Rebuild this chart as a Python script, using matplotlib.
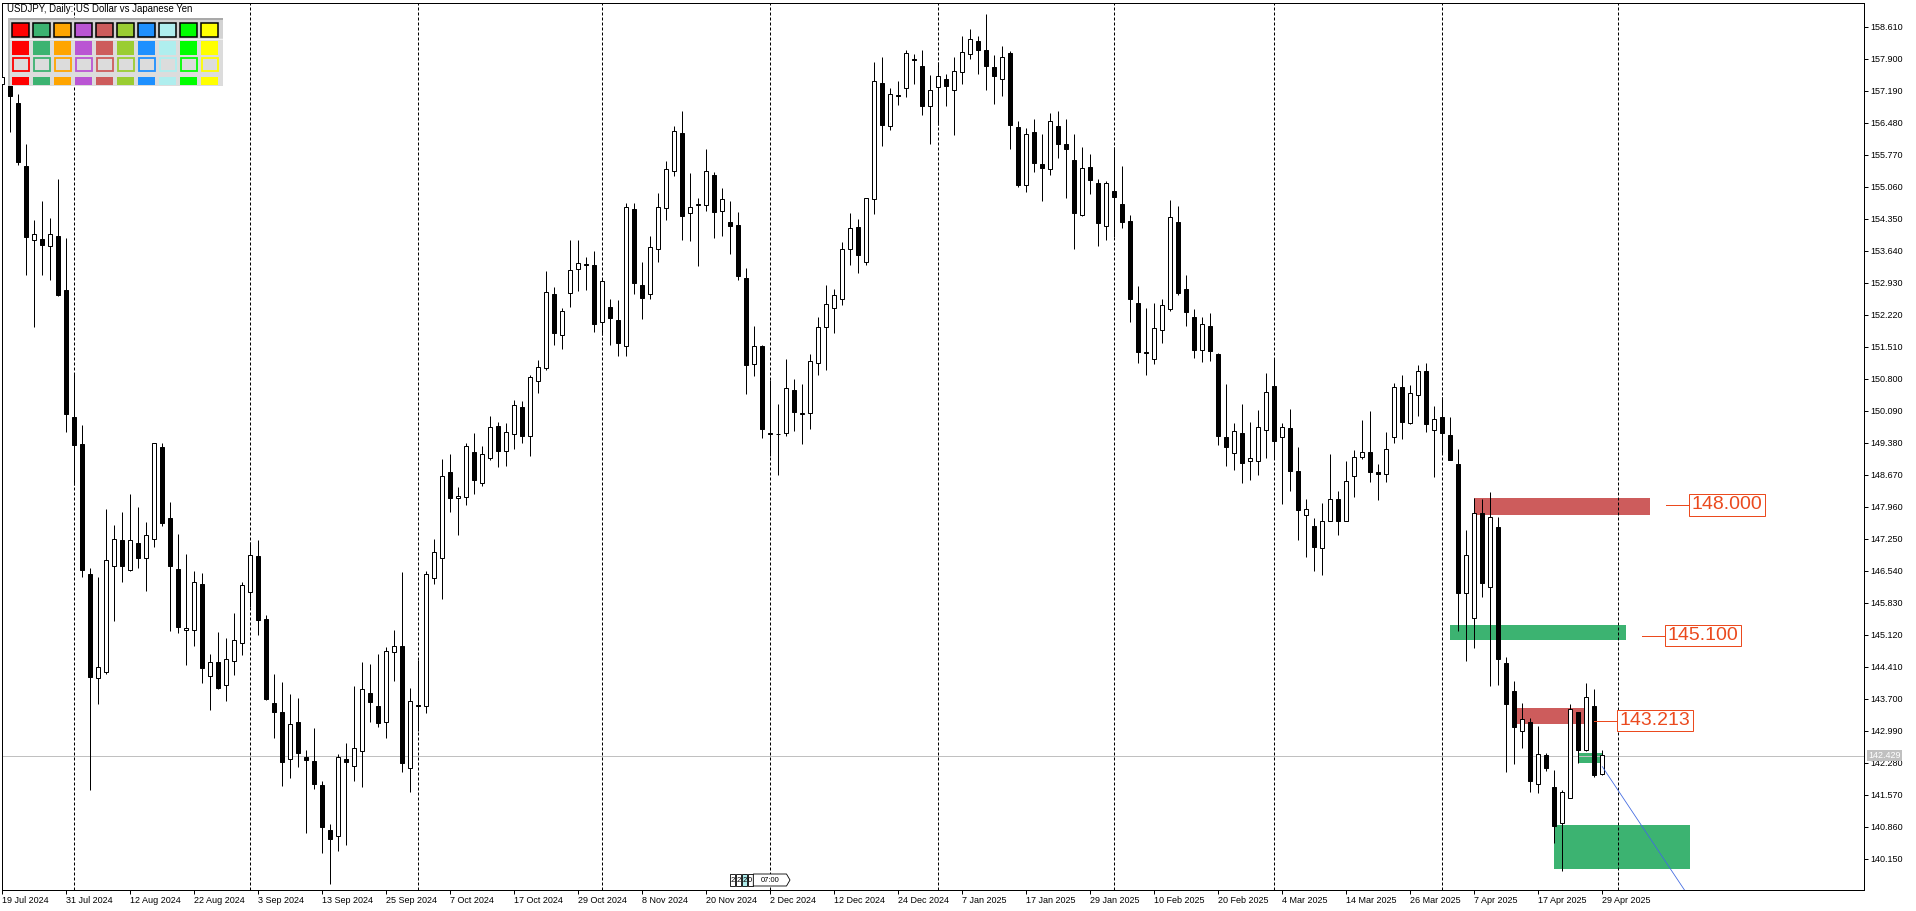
import matplotlib
matplotlib.use("Agg")
import matplotlib.pyplot as plt
from matplotlib.patches import Rectangle, Polygon
from matplotlib import transforms
import numpy as np

plt.rcParams['font.family'] = ['Liberation Sans', 'DejaVu Sans']
plt.rcParams['lines.scale_dashes'] = False

W, H, DPI = 1916, 911, 100
# chart frame, in pixels from the top-left corner
PX_LEFT, PX_RIGHT, PX_TOP, PX_BOTTOM = 2, 1864, 2.5, 890
BAR_PX = 8          # one daily bar every 8 px
BAR0_PX = 2.3       # centre of the first bar
REF_PRICE, REF_PX, PX_PER_YEN = 158.61, 26.9, 45.05

# USDJPY daily, bar 0 = 19 Jul 2024 ... bar 200 = 29 Apr 2025
opens = [157.34, 157.39, 156.91, 155.52, 153.87, 153.90, 153.75, 153.96, 152.77, 149.96,
         149.36, 146.47, 144.15, 144.30, 146.65, 147.23, 146.55, 147.15, 146.82, 147.24,
         149.28, 147.71, 146.57, 145.22, 145.23, 146.25, 144.21, 144.51, 144.00, 144.53,
         144.94, 146.07, 146.87, 145.47, 143.60, 143.40, 142.35, 143.18, 142.40, 142.32,
         141.78, 140.78, 140.64, 142.37, 142.20, 142.54, 143.82, 143.53, 143.17, 144.73,
         144.86, 142.17, 143.56, 143.54, 146.38, 146.81, 148.72, 148.15, 148.18, 149.17,
         148.49, 149.05, 149.76, 149.20, 149.58, 150.17, 149.52, 150.76, 151.03, 152.68,
         151.78, 152.70, 153.23, 153.35, 153.33, 152.06, 152.40, 152.10, 151.53, 154.57,
         152.87, 152.67, 153.69, 154.60, 155.42, 156.25, 154.49, 154.65, 154.66, 155.32,
         154.53, 154.29, 154.21, 153.03, 151.12, 151.52, 149.60, 149.58, 149.60, 150.56,
         150.01, 150.05, 151.15, 151.94, 152.36, 152.58, 153.69, 154.16, 153.40, 154.78,
         157.37, 156.42, 157.10, 157.25, 157.90, 157.74, 156.86, 157.28, 157.46, 157.20,
         157.61, 158.01, 158.29, 158.10, 157.72, 157.46, 158.02, 156.38, 155.09, 156.27,
         155.56, 155.45, 156.40, 156.00, 155.66, 154.43, 155.49, 155.15, 154.18, 154.97,
         154.68, 154.30, 152.49, 151.39, 151.24, 151.89, 152.35, 154.28, 152.80, 152.18,
         151.44, 151.96, 151.35, 149.50, 149.16, 149.59, 148.97, 148.98, 149.67, 150.63,
         149.51, 149.70, 148.75, 147.78, 147.53, 147.05, 147.64, 148.13, 147.65, 148.65,
         149.06, 149.18, 148.73, 148.68, 149.51, 150.61, 149.81, 150.45, 150.97, 149.67,
         149.95, 149.55, 148.91, 146.04, 145.48, 147.83, 146.17, 147.50, 144.48, 143.87,
         142.97, 143.17, 141.80, 142.45, 141.73, 140.93, 141.49, 143.40, 142.57, 143.53,
         142.03]
highs = [157.80, 157.63, 157.12, 156.01, 154.33, 154.75, 154.37, 155.24, 153.93, 150.90,
         149.78, 146.59, 146.41, 147.91, 147.55, 147.84, 148.25, 147.96, 147.61, 149.38,
         149.38, 148.07, 147.36, 146.91, 146.53, 146.49, 144.69, 145.18, 145.05, 145.59,
         146.29, 147.17, 147.22, 145.56, 144.25, 144.07, 143.81, 143.72, 142.56, 143.04,
         141.87, 140.91, 142.47, 142.71, 143.97, 144.51, 144.47, 144.69, 144.85, 145.22,
         146.50, 143.93, 144.56, 146.53, 147.24, 149.02, 149.13, 148.39, 149.37, 149.60,
         149.30, 149.98, 149.84, 149.82, 150.32, 150.30, 150.88, 151.21, 153.19, 152.83,
         152.38, 153.88, 153.88, 153.50, 153.63, 153.02, 152.56, 152.55, 154.70, 154.71,
         153.39, 153.96, 154.93, 155.64, 156.42, 156.75, 155.36, 154.81, 155.89, 155.40,
         155.03, 154.74, 154.50, 153.25, 151.96, 151.55, 150.77, 150.24, 151.23, 150.79,
         150.69, 151.34, 152.17, 152.87, 152.79, 153.83, 154.49, 154.35, 154.82, 157.82,
         157.95, 157.25, 157.40, 158.10, 158.01, 158.10, 157.55, 157.82, 157.57, 157.95,
         158.41, 158.56, 158.40, 158.90, 157.98, 158.19, 158.08, 156.52, 156.36, 156.57,
         156.24, 156.70, 156.75, 156.57, 156.23, 155.95, 155.78, 155.23, 155.20, 155.94,
         155.52, 154.43, 152.86, 152.38, 152.49, 152.56, 154.77, 154.63, 153.11, 152.34,
         152.18, 152.27, 151.38, 150.69, 149.82, 150.23, 149.83, 150.10, 150.92, 151.25,
         149.82, 150.13, 149.28, 148.14, 147.71, 148.05, 149.13, 148.31, 148.97, 149.21,
         149.88, 150.08, 148.90, 149.61, 150.70, 150.88, 150.67, 151.10, 151.16, 150.20,
         150.40, 149.95, 149.25, 147.44, 148.15, 148.12, 148.28, 147.72, 144.63, 144.09,
         143.60, 143.28, 143.09, 142.49, 142.11, 141.67, 143.57, 143.40, 144.04, 143.91,
         142.57]
lows = [157.15, 156.27, 155.55, 153.11, 151.94, 153.10, 153.00, 152.64, 149.61, 148.45,
        146.41, 141.68, 143.58, 144.24, 145.42, 146.28, 146.53, 146.59, 146.08, 147.06,
        147.53, 145.21, 145.15, 144.45, 144.87, 144.04, 143.44, 143.91, 143.64, 144.22,
        144.66, 145.74, 145.11, 143.67, 142.83, 141.77, 141.93, 142.19, 140.71, 141.69,
        140.28, 139.58, 140.32, 140.44, 141.86, 141.73, 143.17, 143.06, 142.83, 144.10,
        142.06, 141.63, 142.97, 143.37, 146.24, 145.91, 147.85, 147.33, 148.00, 148.24,
        148.41, 149.00, 148.85, 148.87, 149.24, 149.37, 149.09, 150.48, 150.99, 151.56,
        151.45, 152.39, 152.75, 152.77, 151.83, 151.78, 151.55, 151.31, 151.30, 152.68,
        152.13, 152.58, 153.40, 154.32, 155.31, 153.88, 153.85, 153.30, 154.53, 153.93,
        153.96, 153.56, 152.99, 150.46, 150.85, 149.49, 149.08, 148.66, 149.53, 149.65,
        149.36, 149.69, 150.89, 150.99, 151.81, 152.44, 153.33, 153.15, 153.33, 154.45,
        155.96, 156.33, 156.87, 157.06, 157.35, 156.66, 156.02, 156.44, 156.86, 156.22,
        157.35, 157.90, 157.56, 157.20, 156.89, 157.07, 155.91, 155.05, 154.95, 155.39,
        154.74, 155.32, 155.70, 154.81, 153.67, 154.42, 154.89, 153.75, 153.87, 153.95,
        154.14, 152.06, 151.16, 150.88, 151.12, 151.60, 152.31, 152.65, 151.97, 151.27,
        151.18, 151.19, 149.32, 148.86, 148.77, 148.49, 148.55, 148.67, 149.04, 149.04,
        148.02, 148.31, 147.21, 146.85, 146.54, 146.45, 147.64, 147.33, 147.65, 148.17,
        149.02, 148.51, 148.11, 148.51, 149.37, 149.46, 149.79, 149.98, 149.61, 148.61,
        149.15, 149.05, 145.19, 144.54, 144.82, 145.96, 143.99, 144.00, 142.06, 142.24,
        142.60, 141.63, 141.61, 142.10, 140.49, 139.88, 141.49, 142.26, 142.54, 141.97,
        142.00]
closes = [157.50, 157.07, 155.61, 153.94, 154.02, 153.76, 154.02, 152.66, 150.02, 149.34,
          146.55, 144.17, 144.40, 146.77, 147.25, 146.64, 147.23, 146.82, 147.34, 149.38,
          147.59, 146.64, 145.29, 145.27, 146.29, 144.39, 144.51, 143.93, 144.59, 144.99,
          146.23, 146.89, 145.44, 143.69, 143.41, 142.30, 143.14, 142.49, 142.34, 141.80,
          140.86, 140.58, 142.40, 142.29, 142.60, 143.91, 143.62, 143.15, 144.75, 144.86,
          142.26, 143.64, 143.53, 146.46, 146.95, 148.63, 148.16, 148.20, 149.30, 148.56,
          149.12, 149.73, 149.19, 149.61, 150.21, 149.52, 150.84, 151.07, 152.73, 151.81,
          152.31, 153.22, 153.36, 153.33, 152.01, 152.98, 152.14, 151.59, 154.62, 152.93,
          152.60, 153.72, 154.62, 155.45, 156.29, 154.42, 154.62, 154.68, 155.42, 154.51,
          154.79, 154.20, 153.09, 151.11, 151.52, 149.69, 149.58, 149.57, 150.59, 150.07,
          150.05, 151.19, 151.94, 152.45, 152.66, 153.67, 154.14, 153.54, 154.82, 157.42,
          156.44, 157.13, 157.07, 158.02, 157.88, 156.86, 157.22, 157.53, 157.30, 157.63,
          158.06, 158.35, 158.10, 157.74, 157.52, 157.94, 156.44, 155.10, 156.24, 155.58,
          155.47, 156.52, 156.02, 155.91, 154.48, 155.48, 155.21, 154.26, 155.15, 154.83,
          154.27, 152.56, 151.40, 151.37, 151.93, 152.44, 154.39, 152.71, 152.29, 151.44,
          152.02, 151.42, 149.54, 149.28, 149.65, 148.94, 149.04, 149.73, 150.50, 149.41,
          149.73, 148.75, 147.89, 147.91, 147.07, 147.64, 148.13, 147.65, 148.53, 149.06,
          149.18, 148.73, 148.68, 149.25, 150.61, 149.83, 150.48, 150.97, 149.79, 149.90,
          149.60, 149.00, 146.05, 146.88, 147.83, 146.27, 147.72, 144.59, 143.57, 143.06,
          143.24, 141.88, 142.48, 142.17, 140.88, 141.62, 143.46, 142.55, 143.73, 142.00,
          142.44]

date_ticks = [0, 8, 16, 24, 32, 40, 48, 56, 64, 72, 80, 88, 96, 104, 112, 120, 128,
              136, 144, 152, 160, 168, 176, 184, 192, 200]
date_labels = ['19 Jul 2024', '31 Jul 2024', '12 Aug 2024', '22 Aug 2024', '3 Sep 2024',
               '13 Sep 2024', '25 Sep 2024', '7 Oct 2024', '17 Oct 2024', '29 Oct 2024',
               '8 Nov 2024', '20 Nov 2024', '2 Dec 2024', '12 Dec 2024', '24 Dec 2024',
               '7 Jan 2025', '17 Jan 2025', '29 Jan 2025', '10 Feb 2025', '20 Feb 2025',
               '4 Mar 2025', '14 Mar 2025', '26 Mar 2025', '7 Apr 2025', '17 Apr 2025',
               '29 Apr 2025']
month_bars = [9, 31, 52, 75, 96, 117, 139, 159, 180, 202]   # first bar of each month
price_ticks = [158.610, 157.900, 157.190, 156.480, 155.770, 155.060, 154.350, 153.640,
               152.930, 152.220, 151.510, 150.800, 150.090, 149.380, 148.670, 147.960,
               147.250, 146.540, 145.830, 145.120, 144.410, 143.700, 142.990, 142.280,
               141.570, 140.860, 140.150]
bid = 142.429

# supply / demand rectangles (bar from, bar to, price low, price high)
zone_from = [184, 181, 189, 197, 194]
zone_to = [206, 203, 198, 200, 211]
zone_low = [147.78, 144.99, 143.14, 142.26, 139.92]
zone_high = [148.15, 145.33, 143.50, 142.49, 140.89]
zone_colors = ['#CD5C5C', '#3CB371', '#CD5C5C', '#3CB371', '#3CB371']

# price labels
label_bar = [208, 205, 199]
label_price = [148.000, 145.100, 143.213]
label_text = ['148.000', '145.100', '143.213']
LABEL_COLOR = '#EB4A1E'

trend_bars = [200, 209.3]
trend_prices = [142.19, 139.71]

palette = ['#FF0000', '#3CB371', '#FFA500', '#BA55D3', '#CD5C5C',
           '#9ACD32', '#1E90FF', '#AFEEEE', '#00FF00', '#FFFF00']
clock_cells = ['2', '2', '2', '0']


fig = plt.figure(figsize=(W / DPI, H / DPI), dpi=DPI)
fig.patch.set_facecolor('white')
ax = fig.add_axes([PX_LEFT / W, 1 - PX_BOTTOM / H,
                   (PX_RIGHT - PX_LEFT) / W, (PX_BOTTOM - PX_TOP) / H])
ax.set_xlim((PX_LEFT - BAR0_PX) / BAR_PX, (PX_RIGHT - BAR0_PX) / BAR_PX)
ax.set_ylim(REF_PRICE - (PX_BOTTOM - REF_PX) / PX_PER_YEN,
            REF_PRICE + (REF_PX - PX_TOP) / PX_PER_YEN)

px = 72 / DPI   # one pixel in points

# zones first, candles on top
for x0, x1, lo, hi, col in zip(zone_from, zone_to, zone_low, zone_high, zone_colors):
    ax.add_patch(Rectangle((x0, lo), x1 - x0, hi - lo, facecolor=col,
                           edgecolor='none', zorder=1))

for b in month_bars:
    ax.axvline(b, color='black', lw=px, linestyle=(0, (3 * px, 2 * px)), zorder=1.2)

ax.axhline(bid, color='#C0C0C0', lw=px, zorder=1.5)

xs = np.arange(len(opens))
o = np.array(opens)
c = np.array(closes)
up = c >= o
ax.vlines(xs, lows, highs, colors='black', lw=px, zorder=3)
ax.bar(xs, np.abs(c - o), bottom=np.minimum(o, c), width=0.5,
       color=np.where(up, 'white', 'black'), edgecolor='black', linewidth=px, zorder=4)

# trend ray, clipped by the frame
slope = (trend_prices[1] - trend_prices[0]) / (trend_bars[1] - trend_bars[0])
ray_x = np.array([trend_bars[0], trend_bars[0] + 20])
ax.plot(ray_x, trend_prices[0] + slope * (ray_x - trend_bars[0]),
        color='#4169E1', lw=0.8 * px, zorder=5)

# price labels with a leader line
lbl_tr = transforms.offset_copy(ax.transData, fig=fig, x=1.8, y=0, units='points')
for b, p, t in zip(label_bar, label_price, label_text):
    ax.plot([b, b + 2.85], [p, p], color=LABEL_COLOR, lw=px, zorder=6)
    ax.text(b + 2.85, p, t, transform=lbl_tr, ha='left', va='center', fontsize=14,
            color=LABEL_COLOR, zorder=7,
            bbox=dict(boxstyle='square,pad=0.12', fc='white', ec=LABEL_COLOR, lw=px))

# axes styling
for s in ax.spines.values():
    s.set_linewidth(px)
    s.set_color('black')
ax.yaxis.tick_right()
ax.set_yticks(price_ticks)
ax.set_yticklabels(['%.3f' % p for p in price_ticks], fontsize=6.5)
ax.tick_params(axis='y', length=4 * px, width=px, pad=2, colors='black')
ax.set_xticks(date_ticks)
ax.set_xticklabels(date_labels, fontsize=6.5, ha='left')
ax.tick_params(axis='x', length=4 * px, width=px, pad=1.5, colors='black')

bid_tr = transforms.offset_copy(transforms.blended_transform_factory(ax.transAxes, ax.transData),
                                fig=fig, x=4 * px, y=0, units='points')
ax.text(1.0, bid, '%.3f' % bid, transform=bid_tr, ha='left', va='center', fontsize=6.5,
        color='white', clip_on=False, zorder=10,
        bbox=dict(boxstyle='square,pad=0.12', fc='#C0C0C0', ec='none'))

# overlay in pixel units for the terminal widgets
ov = fig.add_axes([0, 0, 1, 1], zorder=5)
ov.set_xlim(0, W)
ov.set_ylim(H, 0)
ov.axis('off')
ov.patch.set_alpha(0)

ov.text(7, 9.5, 'USDJPY, Daily: US Dollar vs Japanese Yen', fontsize=6.9,
        ha='left', va='center', color='black')

ov.add_patch(Rectangle((8, 18.3), 214.7, 67.4, fc='#DCDCDC', ec='none'))
ov.add_patch(Rectangle((10, 20), 212.7, 18.3, fc='#D3D3D3', ec='none'))
ov.add_patch(Rectangle((10, 38.5), 212.7, 1.2, fc='#F2F2F2', ec='none'))
ov.add_patch(Rectangle((8, 18.3), 214.7, 1.8, fc='#A9A9A9', ec='none'))
ov.add_patch(Rectangle((8, 18.3), 2, 67.4, fc='#BDBDBD', ec='none'))
for k, col in enumerate(palette):
    x0 = 12 + 21 * k
    ov.add_patch(Rectangle((x0, 22.5), 17.3, 14, fc=col, ec='black', lw=1.1))
    ov.add_patch(Rectangle((x0, 40.7), 17.3, 14.3, fc=col, ec='none'))
    ov.add_patch(Rectangle((x0 + 0.7, 58.4), 15.9, 12.8, fc='#DCDCDC', ec=col, lw=1.3))
    ov.add_patch(Rectangle((x0, 77), 17.3, 8, fc=col, ec='none'))

# small countdown widget above the time scale
for k, t in enumerate(clock_cells):
    x0 = 730 + 5.85 * k
    ov.add_patch(Rectangle((x0, 874), 5.4, 12, fc='#AFEEEE' if k == 2 else 'white',
                           ec='black', lw=0.6))
    ov.text(x0 + 2.7, 880.5, t, fontsize=5.5, ha='center', va='center')
ov.add_patch(Polygon([(753.3, 874), (786.5, 874), (790, 880), (786.5, 886), (753.3, 886)],
                     closed=True, fc='white', ec='black', lw=0.6))
ov.text(770, 880.5, '07:00', fontsize=5.5, ha='center', va='center')

fig.savefig('out.png', dpi=DPI)
